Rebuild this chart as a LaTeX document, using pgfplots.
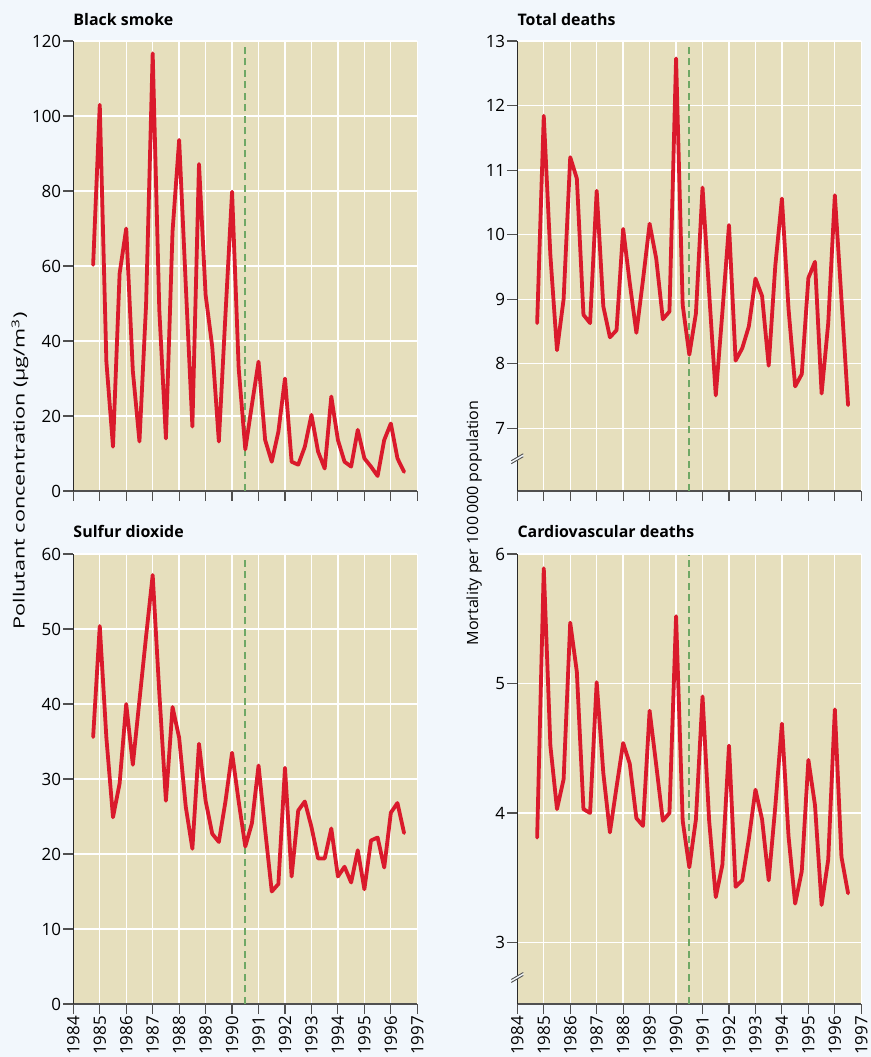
\documentclass[border=0pt]{standalone}
\usepackage{pgfplots}
\usepackage{pgfplotstable}
\pgfplotsset{compat=1.18}
\usepackage{fontspec}
\setmainfont{Open Sans}
\definecolor{bgblue}{HTML}{F2F7FC}
\definecolor{beige}{HTML}{E6DFBD}
\definecolor{lred}{HTML}{DA1A2C}
\definecolor{dgreen}{HTML}{6FA865}
\definecolor{axgray}{HTML}{505050}
\definecolor{axdark}{HTML}{2A2A2A}

\pgfplotstableread{
t bs so td cv
1984.75 60.3 35.6 8.63 3.81
1985.00 103 50.4 11.84 5.89
1985.25 34.5 35.5 9.68 4.52
1985.50 11.8 24.9 8.21 4.03
1985.75 58 29.4 9.0 4.26
1986.00 70 40.0 11.2 5.47
1986.25 32 31.9 10.87 5.09
1986.50 13.2 40.5 8.76 4.03
1986.75 49.6 49 8.63 4.0
1987.00 116.7 57.2 10.68 5.01
1987.25 48.3 41.5 8.89 4.31
1987.50 14 27.1 8.41 3.85
1987.75 69.2 39.6 8.52 4.2
1988.00 93.6 35.5 10.09 4.54
1988.25 55 26.3 9.25 4.38
1988.50 17.2 20.7 8.48 3.96
1988.75 87.2 34.7 9.3 3.9
1989.00 52.3 27.1 10.17 4.79
1989.25 38.5 22.7 9.63 4.37
1989.50 13.2 21.6 8.69 3.94
1989.75 47 27 8.81 4.0
1990.00 79.8 33.5 12.73 5.52
1990.25 32.7 27 8.91 3.94
1990.50 11.1 21.0 8.14 3.58
1990.75 23 24.1 8.78 3.95
1991.00 34.5 31.8 10.73 4.9
1991.25 13.6 23.2 9.1 3.94
1991.50 7.8 15.0 7.51 3.35
1991.75 15.8 16.0 8.8 3.6
1992.00 30 31.5 10.15 4.52
1992.25 7.8 17.0 8.05 3.43
1992.50 7 25.8 8.24 3.48
1992.75 11.8 27.0 8.58 3.8
1993.00 20.3 23.6 9.32 4.18
1993.25 10.5 19.4 9.05 3.95
1993.50 6 19.4 7.97 3.48
1993.75 25.2 23.4 9.52 4.05
1994.00 13.6 17.0 10.56 4.69
1994.25 7.8 18.3 8.85 3.82
1994.50 6.5 16.2 7.65 3.3
1994.75 16.3 20.5 7.84 3.55
1995.00 8.7 15.3 9.33 4.41
1995.25 6.5 21.8 9.58 4.06
1995.50 4 22.2 7.54 3.29
1995.75 13.6 18.2 8.63 3.64
1996.00 18 25.5 10.61 4.8
1996.25 8.7 26.8 9.0 3.66
1996.50 5.1 22.8 7.36 3.38
}\datatable

\pgfplotsset{
  panel/.style={
    scale only axis, width=344bp, height=450bp,
    anchor=south west, clip=false,
    xmin=1984, xmax=1997,
    xtick={1984,...,1997},
    axis x line=bottom, axis y line=left,
    x axis line style={-, line width=1.2bp, axgray},
    y axis line style={-, line width=1.2bp, axdark},
    axis background/.style={fill=beige},
    grid=major, major grid style={white, line width=1.3bp},
    tick align=outside,
    major tick length=10bp,
    tick style={axgray, line width=1.1bp},
    ticklabel style={font=\fontsize{17}{20}\selectfont, text=black},
    /pgf/number format/assume math mode=true,
    /pgf/number format/1000 sep={},
    xticklabel style={rotate=90, anchor=east, inner sep=2bp},
    yticklabel style={inner sep=2bp},
  },
  dataline/.style={lred, line width=3.8bp, line join=round, line cap=round, no marks},
  refline/.style={dgreen, line width=1.8bp, dash pattern=on 7bp off 4.5bp, no marks},
}
\tikzset{ttl/.style={anchor=base west, inner sep=0pt, font=\fontsize{16}{19}\selectfont\bfseries}}

\begin{document}
\begin{tikzpicture}
\fill[bgblue] (0,0) rectangle (871bp,1057bp);
\useasboundingbox (0,0) rectangle (871bp,1057bp);

% Black smoke
\begin{axis}[panel, at={(73.3bp,566bp)}, ymin=0, ymax=120, ytick={0,20,...,120}, xticklabels={}]
\addplot[refline] coordinates {(1990.5,0) (1990.5,119.3)};
\addplot[dataline] table[x=t, y=bs] {\datatable};
\node[ttl] at (rel axis cs:0,1) [yshift=15bp] {Black smoke};
\end{axis}

% Total deaths
\begin{axis}[panel, at={(517.3bp,566bp)}, ymin=6.03, ymax=13, ytick={7,...,13}, xticklabels={}]
\addplot[refline] coordinates {(1990.5,6.03) (1990.5,12.97)};
\addplot[dataline] table[x=t, y=td] {\datatable};
\node[ttl] at (rel axis cs:0,1) [yshift=15bp] {Total deaths};
\fill[bgblue] ([xshift=-6bp,yshift=-5bp]axis cs:1984,6.53) -- ([xshift=6bp,yshift=2bp]axis cs:1984,6.53) -- ([xshift=6bp,yshift=5bp]axis cs:1984,6.53) -- ([xshift=-6bp,yshift=-2bp]axis cs:1984,6.53) -- cycle;
\draw[axgray, line width=0.9bp] ([xshift=-6bp,yshift=-5bp]axis cs:1984,6.53) -- ([xshift=6bp,yshift=2bp]axis cs:1984,6.53);
\draw[axgray, line width=0.9bp] ([xshift=-6bp,yshift=-2bp]axis cs:1984,6.53) -- ([xshift=6bp,yshift=5bp]axis cs:1984,6.53);
\end{axis}

% Sulfur dioxide
\begin{axis}[panel, at={(73.3bp,53bp)}, ymin=0, ymax=60, ytick={0,10,...,60}]
\addplot[refline] coordinates {(1990.5,0) (1990.5,59.6)};
\addplot[dataline] table[x=t, y=so] {\datatable};
\node[ttl] at (rel axis cs:0,1) [yshift=16bp] {Sulfur dioxide};
\end{axis}

% Cardiovascular deaths
\begin{axis}[panel, at={(517.3bp,53bp)}, ymin=2.525, ymax=6, ytick={3,4,5,6}]
\addplot[refline] coordinates {(1990.5,2.525) (1990.5,5.99)};
\addplot[dataline] table[x=t, y=cv] {\datatable};
\node[ttl] at (rel axis cs:0,1) [yshift=16bp] {Cardiovascular deaths};
\fill[bgblue] ([xshift=-6bp,yshift=-5bp]axis cs:1984,2.73) -- ([xshift=6bp,yshift=2bp]axis cs:1984,2.73) -- ([xshift=6bp,yshift=5bp]axis cs:1984,2.73) -- ([xshift=-6bp,yshift=-2bp]axis cs:1984,2.73) -- cycle;
\draw[axgray, line width=0.9bp] ([xshift=-6bp,yshift=-5bp]axis cs:1984,2.73) -- ([xshift=6bp,yshift=2bp]axis cs:1984,2.73);
\draw[axgray, line width=0.9bp] ([xshift=-6bp,yshift=-2bp]axis cs:1984,2.73) -- ([xshift=6bp,yshift=5bp]axis cs:1984,2.73);
\end{axis}

\node[rotate=90, font=\fontsize{15.5}{18}\selectfont, inner sep=0pt] at (20bp,586bp) {\resizebox{317bp}{\height}{Pollutant concentration (µg/m\textsuperscript{3})}};
\node[rotate=90, font=\fontsize{15.5}{18}\selectfont, inner sep=0pt] at (474bp,534bp) {\resizebox{245bp}{\height}{Mortality per 100\,000 population}};
\end{tikzpicture}
\end{document}
